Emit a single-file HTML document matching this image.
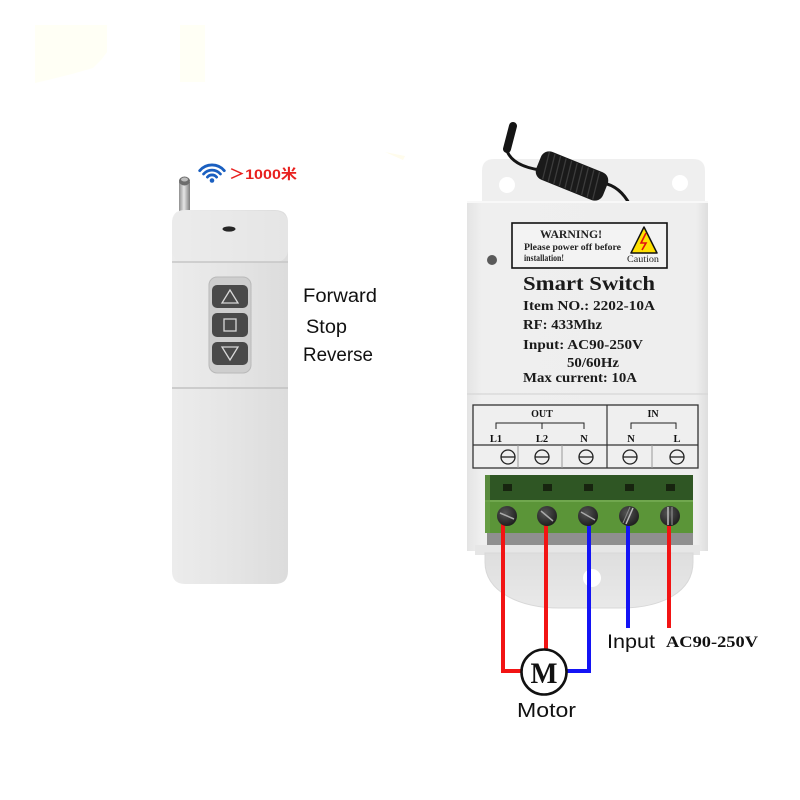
<!DOCTYPE html>
<html><head><meta charset="utf-8"><title>Smart Switch wiring</title><style>
html,body{margin:0;padding:0;background:#fff;}
svg{display:block;}
.sans{font-family:"Liberation Sans","DejaVu Sans",sans-serif;}
.serif{font-family:"Liberation Serif","DejaVu Serif",serif;font-weight:bold;}
</style></head><body>
<svg width="800" height="800" viewBox="0 0 800 800" xmlns="http://www.w3.org/2000/svg">
<defs>
<linearGradient id="rem" x1="0" x2="1" y1="0" y2="0">
<stop offset="0" stop-color="#ececec"/><stop offset="0.5" stop-color="#e5e5e5"/><stop offset="1" stop-color="#dcdcdc"/>
</linearGradient>
<linearGradient id="ant" x1="0" x2="1"><stop offset="0" stop-color="#8f8f8f"/><stop offset="0.45" stop-color="#e6e6e6"/><stop offset="1" stop-color="#7c7c7c"/></linearGradient>
<linearGradient id="body" x1="0" x2="1"><stop offset="0" stop-color="#e4e4e4"/><stop offset="0.06" stop-color="#efefef"/><stop offset="0.95" stop-color="#eeeeee"/><stop offset="1" stop-color="#dedede"/></linearGradient>
<linearGradient id="lobe" x1="0" x2="0" y1="0" y2="1"><stop offset="0" stop-color="#dedede"/><stop offset="1" stop-color="#e9e9e9"/></linearGradient>
<radialGradient id="scr" cx="0.4" cy="0.35" r="0.7"><stop offset="0" stop-color="#555"/><stop offset="1" stop-color="#1c1c1c"/></radialGradient>
</defs>
<rect width="800" height="800" fill="#fff"/>

<!-- faint yellow patches -->
<path d="M35,25 H107 V52 L101,60 L93,68 L72,74 L48,80 L35,83 Z" fill="#fffff5"/>
<rect x="180" y="25" width="25" height="57" fill="#fffff5"/>
<path d="M385,152 L405,156 L403,160 Z" fill="#fffcec"/>

<!-- ===== Remote ===== -->
<rect x="179" y="182" width="11" height="32" fill="url(#ant)"/>
<ellipse cx="184.5" cy="181" rx="5.5" ry="4.5" fill="#6d6d6d"/>
<ellipse cx="184.5" cy="179.5" rx="3.5" ry="2" fill="#bdbdbd"/>
<path d="M172,223 Q172,210 185,210 H275 Q288,210 288,223 V571 Q288,584 275,584 H185 Q172,584 172,571 Z" fill="url(#rem)"/>
<rect x="172" y="211" width="116" height="51" rx="12" fill="#ebebeb" opacity="0.6"/>
<line x1="172" y1="262" x2="288" y2="262" stroke="#c6c6c6" stroke-width="1.5"/>
<line x1="172" y1="388" x2="288" y2="388" stroke="#c2c2c2" stroke-width="1.5"/>
<ellipse cx="229" cy="229" rx="6.5" ry="2.6" fill="#262626"/>
<rect x="209" y="277" width="42" height="96" rx="8" fill="#cecece" stroke="#b9b9b9"/>
<rect x="212" y="285" width="36" height="23" rx="5" fill="#4a4a4a"/>
<rect x="212" y="313" width="36" height="24" rx="5" fill="#4a4a4a"/>
<rect x="212" y="342" width="36" height="23" rx="5" fill="#4a4a4a"/>
<polygon points="230,290 222,303 238,303" fill="none" stroke="#d8d8d8" stroke-width="1.3"/>
<rect x="224" y="319" width="12" height="12" fill="none" stroke="#d8d8d8" stroke-width="1.3"/>
<polygon points="222,347 238,347 230,360" fill="none" stroke="#d8d8d8" stroke-width="1.3"/>

<!-- wifi icon -->
<g fill="none" stroke="#1a5fc0" stroke-width="2.8" stroke-linecap="round">
<path d="M199.7,170.7 A16,16 0 0 1 224.3,170.7"/>
<path d="M203.6,174 A11,11 0 0 1 220.4,174"/>
<path d="M207.4,177.1 A6,6 0 0 1 216.6,177.1"/>
</g>
<circle cx="212" cy="180.5" r="2.3" fill="#1a5fc0"/>
<text x="229" y="179" font-size="14" font-weight="bold" fill="#e8201e" textLength="68" lengthAdjust="spacingAndGlyphs" style="font-family:'Liberation Sans','Noto Sans CJK SC',sans-serif;">＞1000米</text>

<text x="303" y="302" class="sans" font-size="19" fill="#111" textLength="74" lengthAdjust="spacingAndGlyphs">Forward</text>
<text x="306" y="333" class="sans" font-size="19" fill="#111" textLength="41" lengthAdjust="spacingAndGlyphs">Stop</text>
<text x="303" y="361" class="sans" font-size="19" fill="#111" textLength="70" lengthAdjust="spacingAndGlyphs">Reverse</text>

<!-- ===== Switch ===== -->
<!-- flange -->
<path d="M482,171 Q482,159 494,159 H693 Q705,159 705,171 V205 H482 Z" fill="#efefef"/>
<circle cx="507" cy="185" r="8" fill="#fff"/>
<circle cx="680" cy="183" r="8" fill="#fff"/>

<!-- coil antenna -->
<g stroke="#151515" fill="none" stroke-linecap="round">
<path d="M513,126 L507,149" stroke-width="8"/>
<path d="M507,151 Q513,166 540,170" stroke-width="3"/>
<path d="M603,183 Q620,186 630,205" stroke-width="3"/>
</g>
<g transform="translate(572,176) rotate(22)">
<rect x="-36" y="-15" width="72" height="30" rx="9" fill="#1a1a1a"/>
<g stroke="#3c3c3c" stroke-width="1.3">
<line x1="-30" y1="-14" x2="-26" y2="14"/><line x1="-24" y1="-14" x2="-20" y2="14"/>
<line x1="-18" y1="-14" x2="-14" y2="14"/><line x1="-12" y1="-14" x2="-8" y2="14"/>
<line x1="-6" y1="-14" x2="-2" y2="14"/><line x1="0" y1="-14" x2="4" y2="14"/>
<line x1="6" y1="-14" x2="10" y2="14"/><line x1="12" y1="-14" x2="16" y2="14"/>
<line x1="18" y1="-14" x2="22" y2="14"/><line x1="24" y1="-14" x2="28" y2="14"/>
</g>
</g>

<!-- main body -->
<rect x="467" y="201" width="241" height="350" fill="url(#body)"/>
<line x1="467" y1="202" x2="708" y2="202" stroke="#f8f8f8" stroke-width="2"/>
<line x1="467" y1="394" x2="708" y2="394" stroke="#d6d6d6" stroke-width="1.2"/>
<circle cx="492" cy="260" r="5" fill="#5a5a5a"/>

<!-- warning box -->
<rect x="512" y="223" width="155" height="45" fill="#f3f3f3" stroke="#111" stroke-width="1.6"/>
<text x="540" y="238" class="serif" font-size="12" fill="#222" textLength="62" lengthAdjust="spacingAndGlyphs">WARNING!</text>
<text x="524" y="250" class="serif" font-size="9.5" fill="#222" textLength="97" lengthAdjust="spacingAndGlyphs">Please power off before</text>
<text x="524" y="261" class="serif" font-size="9.5" fill="#222" textLength="40" lengthAdjust="spacingAndGlyphs">installation!</text>
<polygon points="644,227 631,253 657,253" fill="#ffe000" stroke="#111" stroke-width="1.5" stroke-linejoin="round"/>
<polyline points="646,233 641,243 646,243 642,250" fill="none" stroke="#e01010" stroke-width="1.6"/>
<text x="627" y="262" font-family="Liberation Serif, serif" font-size="9.5" fill="#222" textLength="32" lengthAdjust="spacingAndGlyphs">Caution</text>

<!-- spec text -->
<text x="523" y="290" class="serif" font-size="20" fill="#1a1a1a" textLength="132" lengthAdjust="spacingAndGlyphs">Smart Switch</text>
<text x="523" y="310" class="serif" font-size="14" fill="#1a1a1a" textLength="132" lengthAdjust="spacingAndGlyphs">Item NO.: 2202-10A</text>
<text x="523" y="329" class="serif" font-size="14" fill="#1a1a1a" textLength="79" lengthAdjust="spacingAndGlyphs">RF: 433Mhz</text>
<text x="523" y="349" class="serif" font-size="14" fill="#1a1a1a" textLength="120" lengthAdjust="spacingAndGlyphs">Input: AC90-250V</text>
<text x="567" y="367" class="serif" font-size="14" fill="#1a1a1a" textLength="52" lengthAdjust="spacingAndGlyphs">50/60Hz</text>
<text x="523" y="382" class="serif" font-size="14" fill="#1a1a1a" textLength="114" lengthAdjust="spacingAndGlyphs">Max current: 10A</text>

<!-- terminal label panel -->
<rect x="473" y="405" width="225" height="63" fill="#efefef" stroke="#333" stroke-width="1.3"/>
<line x1="473" y1="445" x2="698" y2="445" stroke="#333" stroke-width="1.2"/>
<line x1="607" y1="405" x2="607" y2="468" stroke="#333" stroke-width="1.2"/>
<g stroke="#999" stroke-width="1">
<line x1="518" y1="445" x2="518" y2="468"/><line x1="562" y1="445" x2="562" y2="468"/><line x1="652" y1="445" x2="652" y2="468"/>
</g>
<text x="542" y="417" class="serif" font-size="10" fill="#111" text-anchor="middle">OUT</text>
<text x="653" y="417" class="serif" font-size="10" fill="#111" text-anchor="middle">IN</text>
<g stroke="#222" stroke-width="1" fill="none">
<polyline points="496,429 496,423 584,423 584,429"/><line x1="542" y1="423" x2="542" y2="429"/>
<polyline points="631,429 631,423 676,423 676,429"/>
</g>
<g class="serif" font-size="10.5" fill="#111" text-anchor="middle">
<text x="496" y="442">L1</text><text x="542" y="442">L2</text><text x="584" y="442">N</text>
<text x="631" y="442">N</text><text x="677" y="442">L</text>
</g>
<g stroke="#222" stroke-width="1.3" fill="none">
<circle cx="508" cy="457" r="7"/><line x1="501" y1="457" x2="515" y2="457"/>
<circle cx="542" cy="457" r="7"/><line x1="535" y1="457" x2="549" y2="457"/>
<circle cx="586" cy="457" r="7"/><line x1="579" y1="457" x2="593" y2="457"/>
<circle cx="630" cy="457" r="7"/><line x1="623" y1="457" x2="637" y2="457"/>
<circle cx="677" cy="457" r="7"/><line x1="670" y1="457" x2="684" y2="457"/>
</g>

<!-- green terminal block -->
<rect x="485" y="475" width="208" height="26" fill="#2f5624"/>
<rect x="485" y="500" width="208" height="33" fill="#5b9538"/>
<line x1="485" y1="501" x2="693" y2="501" stroke="#78ad55" stroke-width="1.5"/>
<rect x="485" y="475" width="5" height="58" fill="#6aa048" opacity="0.7"/>
<g fill="#17240f">
<rect x="503" y="484" width="9" height="7"/><rect x="543" y="484" width="9" height="7"/>
<rect x="584" y="484" width="9" height="7"/><rect x="625" y="484" width="9" height="7"/>
<rect x="666" y="484" width="9" height="7"/>
</g>
<rect x="487" y="533" width="206" height="12" fill="#8f8f8f"/>
<rect x="475" y="545" width="225" height="10" fill="#e6e6e6"/>
<!-- lower lobe -->
<path d="M485,553 L485,562 C485,592 520,608 560,608 L620,608 C662,608 693,592 693,562 L693,553 Z" fill="url(#lobe)" stroke="#d8d8d8" stroke-width="1"/>
<circle cx="592" cy="578" r="9" fill="#fff"/>

<!-- wires -->
<g fill="none" stroke-width="4" stroke-linejoin="miter">
<path d="M503,516 V671 H522" stroke="#f21414"/>
<path d="M546,516 V650" stroke="#f21414"/>
<path d="M589,516 V671 H566" stroke="#1414f5"/>
<path d="M628,516 V628" stroke="#1414f5"/>
<path d="M669,516 V628" stroke="#f21414"/>
</g>

<!-- screws -->
<g>
<circle cx="507" cy="516" r="10" fill="url(#scr)"/><line x1="500" y1="513" x2="514" y2="519" stroke="#aaa" stroke-width="1.5"/>
<circle cx="547" cy="516" r="10" fill="url(#scr)"/><line x1="541" y1="511" x2="553" y2="521" stroke="#aaa" stroke-width="1.5"/>
<circle cx="588" cy="516" r="10" fill="url(#scr)"/><line x1="581" y1="512" x2="595" y2="520" stroke="#aaa" stroke-width="1.5"/>
<circle cx="629" cy="516" r="10" fill="url(#scr)"/><line x1="626" y1="524" x2="633" y2="508" stroke="#bbb" stroke-width="1.5"/><line x1="623" y1="523" x2="630" y2="507" stroke="#888" stroke-width="1"/>
<circle cx="670" cy="516" r="10" fill="url(#scr)"/><line x1="668" y1="507" x2="668" y2="525" stroke="#bbb" stroke-width="1.5"/><line x1="672" y1="507" x2="672" y2="525" stroke="#999" stroke-width="1"/>
</g>

<!-- motor -->
<circle cx="544" cy="672" r="22.5" fill="#fff" stroke="#111" stroke-width="2.6"/>
<text x="544" y="683" class="serif" font-size="30" fill="#111" text-anchor="middle" textLength="27" lengthAdjust="spacingAndGlyphs">M</text>

<!-- labels -->
<text x="517" y="717" class="sans" font-size="20" fill="#111" textLength="59" lengthAdjust="spacingAndGlyphs">Motor</text>
<text x="607" y="648" class="sans" font-size="19" fill="#111" textLength="48" lengthAdjust="spacingAndGlyphs">Input</text>
<text x="666" y="647" class="serif" font-size="16" fill="#111" textLength="92" lengthAdjust="spacingAndGlyphs">AC90-250V</text>
</svg>
</body></html>
